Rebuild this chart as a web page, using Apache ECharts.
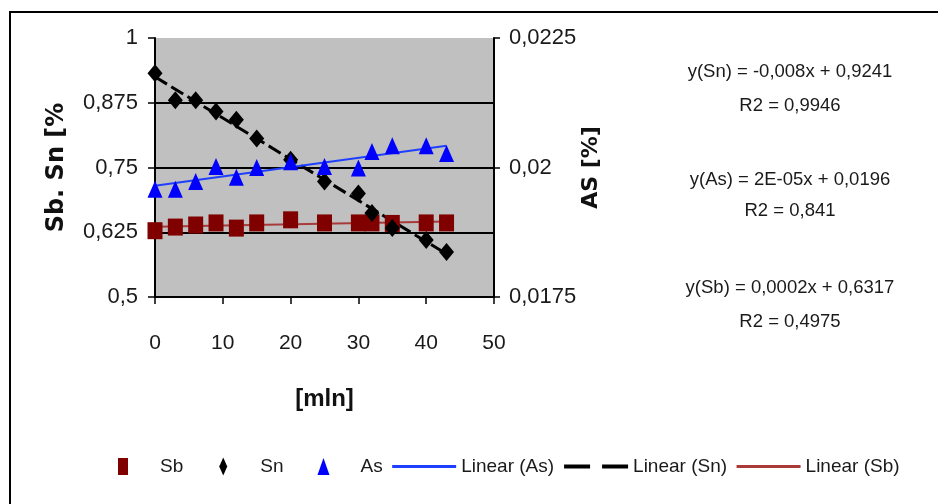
<!DOCTYPE html>
<html>
<head>
<meta charset="utf-8">
<script src="https://cdn.jsdelivr.net/npm/echarts@6/dist/echarts.min.js"></script>
<style>html,body{margin:0;padding:0;background:#fff}#c{width:938px;height:504px}</style>
</head>
<body>
<div id="c"></div>
<script>
// ---- data ----
const times = [0, 3, 6, 9, 12, 15, 20, 25, 30, 32, 35, 40, 43];
const sbValues = [0.628, 0.635, 0.639, 0.643, 0.633, 0.643, 0.649, 0.643, 0.643, 0.643, 0.642, 0.643, 0.643];
const snValues = [0.932, 0.880, 0.880, 0.858, 0.842, 0.806, 0.765, 0.723, 0.700, 0.662, 0.633, 0.610, 0.587];
const asValues = [0.01958, 0.01958, 0.01973, 0.02002, 0.01981, 0.02000, 0.02011, 0.02002, 0.01999, 0.02031, 0.02042, 0.02042, 0.02027];
const seriesNames = ['Sb', 'Sn', 'As', 'Linear (As)', 'Linear (Sn)', 'Linear (Sb)'];
const equationTexts = [
  'y(Sn) = -0,008x + 0,9241', 'R2 = 0,9946',
  'y(As) = 2E-05x + 0,0196', 'R2 = 0,841',
  'y(Sb) = 0,0002x + 0,6317', 'R2 = 0,4975'
];
const axisNames = { left: 'Sb. Sn [%', right: 'AS [%]', bottom: '[mln]' };

// least-squares trend line over the data range
function trend(xs, ys) {
  const n = xs.length;
  let sx = 0, sy = 0, sxx = 0, sxy = 0;
  for (let i = 0; i < n; i++) { sx += xs[i]; sy += ys[i]; sxx += xs[i] * xs[i]; sxy += xs[i] * ys[i]; }
  const b = (n * sxy - sx * sy) / (n * sxx - sx * sx);
  const a = (sy - b * sx) / n;
  const x0 = Math.min(...xs), x1 = Math.max(...xs);
  return [[x0, a + b * x0], [x1, a + b * x1]];
}
const pairs = (xs, ys) => xs.map((x, i) => [x, ys[i]]);

const SANS = "'Liberation Sans',Arial,sans-serif";
const BOLDT = "'DejaVu Sans',Verdana,sans-serif";
const fmt = v => String(+v.toFixed(6)).replace('.', ',');

const chart = echarts.init(document.getElementById('c'), null, { renderer: 'canvas' });

const eqY = [72, 106, 180, 211, 288, 322];
const graphics = [
  { type: 'polyline', shape: { points: [[10, 504], [10, 12], [938, 12]] }, style: { stroke: '#000', lineWidth: 2, fill: null }, silent: true }
];
equationTexts.forEach((t, i) => {
  graphics.push({
    type: 'text', x: 790, y: eqY[i],
    style: { text: t, fill: '#1a1a1a', font: '18.5px ' + SANS, textAlign: 'center', textVerticalAlign: 'middle' }
  });
});

// legend icons span the full 64x18 item box so every item lays out the same way
const iconSquare = 'path://M0,0L0,0M27,0.5L37,0.5L37,17.5L27,17.5ZM64,18L64,18';
const iconDiamond = 'path://M0,0L0,0M32,0L36,9L32,18L28,9ZM64,18L64,18';
const iconTriangle = 'path://M0,0L0,0M32,0.5L38,17.5L26,17.5ZM64,18L64,18';
const hideDot = { opacity: 0 };

chart.setOption({
  animation: false,
  backgroundColor: '#fff',
  grid: { left: 155, right: 444, top: 38, bottom: 207, show: true, backgroundColor: '#c0c0c0', borderWidth: 0, containLabel: false },
  xAxis: {
    type: 'value', min: 0, max: 50, interval: 10,
    name: axisNames.bottom, nameLocation: 'middle', nameGap: 90,
    nameTextStyle: { fontFamily: SANS, fontWeight: 'bold', fontSize: 24, color: '#111' },
    axisLine: { show: true, onZero: false, lineStyle: { color: '#000', width: 2 } },
    axisTick: { show: true, inside: false, length: 7, lineStyle: { color: '#000', width: 1.5 } },
    axisLabel: { margin: 36, fontFamily: SANS, fontSize: 21, color: '#1a1a1a' },
    splitLine: { show: false }
  },
  yAxis: [
    {
      type: 'value', min: 0.5, max: 1, interval: 0.125, position: 'left',
      name: axisNames.left, nameLocation: 'middle', nameGap: 86, nameRotate: 90,
      nameTextStyle: { fontFamily: BOLDT, fontWeight: 'bold', fontSize: 24, color: '#111' },
      axisLine: { show: true, lineStyle: { color: '#000', width: 2 } },
      axisTick: { show: true, inside: false, length: 7, lineStyle: { color: '#000', width: 1.5 } },
      axisLabel: { margin: 17, fontFamily: SANS, fontSize: 22, color: '#1a1a1a', formatter: fmt },
      splitLine: { show: true, showMinLine: false, showMaxLine: false, lineStyle: { color: '#000', width: 2 } }
    },
    {
      type: 'value', min: 0.0175, max: 0.0225, interval: 0.0025, position: 'right',
      name: axisNames.right, nameLocation: 'middle', nameGap: 66, nameRotate: 90,
      nameTextStyle: { fontFamily: BOLDT, fontWeight: 'bold', fontSize: 22, color: '#111' },
      axisLine: { show: true, lineStyle: { color: '#000', width: 2 } },
      axisTick: { show: true, inside: false, length: 6, lineStyle: { color: '#000', width: 1.5 } },
      axisLabel: { margin: 15, fontFamily: SANS, fontSize: 22, color: '#1a1a1a', formatter: fmt },
      splitLine: { show: false }
    }
  ],
  legend: {
    left: 91, top: 457, padding: 0, itemWidth: 64, itemHeight: 18, itemGap: 8,
    textStyle: { fontFamily: SANS, fontSize: 19, color: '#1a1a1a' },
    data: [
      { name: seriesNames[0], icon: iconSquare },
      { name: seriesNames[1], icon: iconDiamond },
      { name: seriesNames[2], icon: iconTriangle },
      { name: seriesNames[3], itemStyle: hideDot, lineStyle: { width: 3 } },
      { name: seriesNames[4], itemStyle: hideDot, lineStyle: { type: [26, 12], width: 4 } },
      { name: seriesNames[5], itemStyle: hideDot, lineStyle: { width: 3 } }
    ]
  },
  series: [
    { name: seriesNames[5], type: 'line', yAxisIndex: 0, data: trend(times, sbValues), showSymbol: false, symbol: 'none',
      lineStyle: { color: '#a83a3a', width: 2 }, itemStyle: { color: '#a83a3a' }, z: 2 },
    { name: seriesNames[4], type: 'line', yAxisIndex: 0, data: trend(times, snValues), showSymbol: false, symbol: 'none',
      lineStyle: { color: '#000', width: 3, type: [14, 5] }, itemStyle: { color: '#000' }, z: 2 },
    { name: seriesNames[3], type: 'line', yAxisIndex: 1, data: trend(times, asValues), showSymbol: false, symbol: 'none',
      lineStyle: { color: '#1f3fff', width: 2 }, itemStyle: { color: '#1f3fff' }, z: 2 },
    { name: seriesNames[0], type: 'scatter', yAxisIndex: 0, data: pairs(times, sbValues), symbol: 'rect', symbolSize: [15, 17],
      itemStyle: { color: '#800000', opacity: 1 }, z: 3 },
    { name: seriesNames[1], type: 'scatter', yAxisIndex: 0, data: pairs(times, snValues), symbol: 'diamond', symbolSize: [15, 18],
      itemStyle: { color: '#000', opacity: 1 }, z: 3 },
    { name: seriesNames[2], type: 'scatter', yAxisIndex: 1, data: pairs(times, asValues), symbol: 'triangle', symbolSize: [15, 17],
      itemStyle: { color: '#0000ff', opacity: 1 }, z: 4 }
  ],
  graphic: graphics
});
</script>
</body>
</html>
